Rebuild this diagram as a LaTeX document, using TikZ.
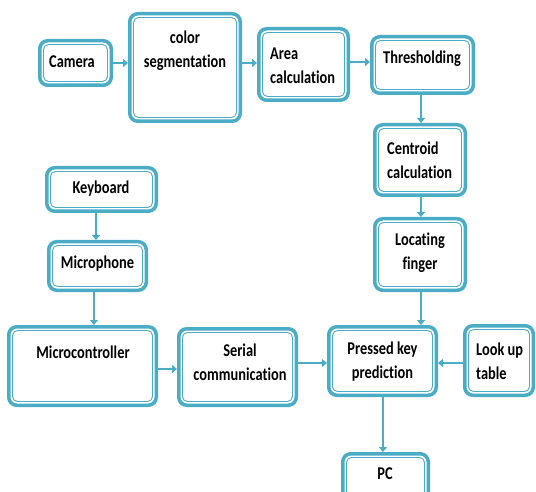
\documentclass[tikz,border=0pt]{standalone}
\usepackage{fontspec}
\setmainfont{Carlito}[FakeStretch=0.8,Ligatures=NoCommon]
\usetikzlibrary{arrows.meta}
\definecolor{bx}{RGB}{75,172,198}
\tikzset{
  box/.style={draw=bx, line width=3.5pt, rounded corners=8pt, fill=white, inner sep=0pt},
  innerline/.style={draw=bx, line width=0.9pt, rounded corners=5pt},
  txt/.style={font=\fontsize{18}{24}\selectfont\bfseries, inner sep=0pt, text=black},
  arr/.style={draw=bx, line width=2pt, -{Triangle[length=5pt,width=8pt]}}
}
\begin{document}
\begin{tikzpicture}[x=1pt,y=-1pt]
\clip (0,0) rectangle (536,492);
\fill[white] (0,0) rectangle (536,492);
% boxes
\node[box, minimum width=71.5, minimum height=44.5] (cam) at (75.5,63) {};
\node[box, minimum width=110.5, minimum height=107.5] (seg) at (185,67.5) {};
\node[box, minimum width=89.5, minimum height=71.5] (area) at (303.5,64.5) {};
\node[box, minimum width=101.5, minimum height=56.5] (thr) at (422.5,65) {};
\node[box, minimum width=90.5, minimum height=70.5] (cen) at (420,160) {};
\node[box, minimum width=90.5, minimum height=71.5] (loc) at (420,254.5) {};
\node[box, minimum width=109.5, minimum height=43.5] (kbd) at (101.5,189.5) {};
\node[box, minimum width=97.5, minimum height=48.5] (mic) at (97.5,266) {};
\node[box, minimum width=147.5, minimum height=78.5] (mcu) at (82.5,366) {};
\node[box, minimum width=117.5, minimum height=76.5] (ser) at (237.5,367) {};
\node[box, minimum width=107.5, minimum height=68.5] (prs) at (382.5,361) {};
\node[box, minimum width=68.5, minimum height=69.5] (lut) at (499,360.5) {};
\node[box, minimum width=85.5, minimum height=54.5] (pc) at (385.5,481) {};
\foreach \n in {cam,seg,area,thr,cen,loc,kbd,mic,mcu,ser,prs,lut,pc}
  \draw[innerline] ([shift={(5.5,5.5)}]\n.north west) rectangle ([shift={(-5.5,-5.5)}]\n.south east);
% texts
\node[txt] (camt) at (72,62) {Camera};
\node[txt, align=center] (segt) at (185,51) {color\\segmentation};
\node[txt, align=left, anchor=west] (areat) at (270,65.5) {Area\\calculation};
\node[txt] (thrt) at (422,59) {Thresholding};
\node[txt, align=left, anchor=west] (cent) at (387,160) {Centroid\\calculation};
\node[txt, align=center] (loct) at (420,253) {Locating\\finger};
\node[txt] (kbdt) at (101,189) {Keyboard};
\node[txt] (mict) at (97.5,264) {Microphone};
\node[txt] (mcut) at (83,352) {Microcontroller};
\node[txt, align=center] (sert) at (240,362) {Serial\\communication};
\node[txt, align=center] (prst) at (382.5,361.5) {Pressed key\\prediction};
\node[txt, align=left, anchor=west] (lutt) at (476,361.5) {Look up\\table};
\node[txt] (pct) at (385,474) {PC};
% connectors
\draw[arr] (cam.east) -- (cam.east -| seg.west);
\draw[arr] (seg.east |- 0,63) -- (area.west |- 0,63);
\draw[arr] (area.east |- 0,62) -- (thr.west |- 0,62);
\draw[arr] (thr.south -| 421,0) -- (421,0 |- cen.north);
\draw[arr] (cen.south -| 421,0) -- (421,0 |- loc.north);
\draw[arr] (loc.south -| 421,0) -- (421,0 |- prs.north);
\draw[arr] (kbd.south -| 96,0) -- (96,0 |- mic.north);
\draw[arr] (mic.south -| 94,0) -- (94,0 |- mcu.north);
\draw[arr] (mcu.east |- 0,369) -- (ser.west |- 0,369);
\draw[arr] (ser.east |- 0,363) -- (prs.west |- 0,363);
\draw[arr] (lut.west |- 0,363) -- (prs.east |- 0,363);
\draw[arr] (prs.south -| 383,0) -- (383,0 |- pc.north);
\end{tikzpicture}
\end{document}
